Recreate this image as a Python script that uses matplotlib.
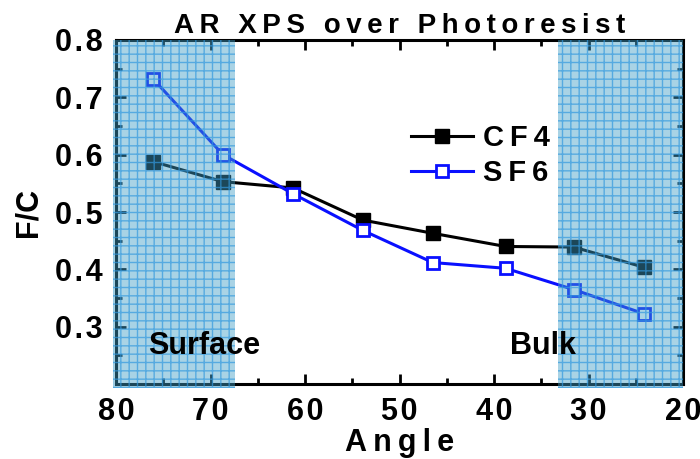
import matplotlib
matplotlib.use('Agg')
import matplotlib.pyplot as plt
from matplotlib.ticker import MultipleLocator, FuncFormatter

plt.rcParams['font.family'] = ['Liberation Sans', 'DejaVu Sans']
plt.rcParams['font.weight'] = 'bold'
plt.rcParams['hatch.linewidth'] = 1.0

# data
angle = [76.1, 68.7, 61.3, 53.9, 46.5, 38.8, 31.6, 24.2]
cf4 = [0.588, 0.553, 0.542, 0.486, 0.463, 0.440, 0.439, 0.404]
sf6 = [0.732, 0.600, 0.532, 0.468, 0.412, 0.402, 0.365, 0.323]
surface_span = (80.3, 67.4)
bulk_span = (33.3, 20)


def spaced(s, gap='\u2009'):
    # origin-style letter spacing
    return gap.join(s)


fig = plt.figure(figsize=(7, 4.59), dpi=100)
ax = fig.add_axes([0.166, 0.163, 0.81, 0.750])

ax.plot(angle, cf4, '-s', color='black', lw=2.2, ms=9.5, label=spaced('CF4'), zorder=3)
ax.plot(angle, sf6, '-s', color='#0a10ff', lw=2.2, ms=8.5, mfc='white',
        mew=2.0, label=spaced('SF6'), zorder=3)

# shaded regions drawn over everything, like the original
for lo, hi in (surface_span, bulk_span):
    ax.axvspan(lo, hi, ymin=-0.012, facecolor=(0.25, 0.62, 0.78, 0.45),
               edgecolor='none', zorder=5, clip_on=False)
    ax.axvspan(lo, hi, ymin=-0.012, facecolor='none', edgecolor=(0.2, 0.6, 0.87, 0.7),
               hatch='++', lw=0, zorder=5, clip_on=False)

ax.text(76.6, 0.252, 'Surface', fontsize=22, fontweight='bold', zorder=6)
ax.text(38.3, 0.252, 'Bulk', fontsize=22, fontweight='bold', zorder=6)

ax.set_xlim(80, 20)
ax.set_ylim(0.2, 0.8)
ax.xaxis.set_major_locator(MultipleLocator(10))
ax.xaxis.set_minor_locator(MultipleLocator(5))
ax.yaxis.set_minor_locator(MultipleLocator(0.05))
ax.set_yticks([0.3, 0.4, 0.5, 0.6, 0.7, 0.8])
ax.xaxis.set_major_formatter(FuncFormatter(lambda v, p: spaced('%d' % v, '\u200a')))
ax.yaxis.set_major_formatter(FuncFormatter(lambda v, p: spaced('%.1f' % v, '\u200a')))
ax.tick_params(which='both', direction='in', top=True, right=True, width=2,
               labelsize=22)
ax.tick_params(which='major', length=7)
ax.tick_params(which='minor', length=4)
ax.tick_params(axis='x', pad=9)
ax.tick_params(axis='y', pad=10)
for s in ax.spines.values():
    s.set_linewidth(2.2)

ax.set_xlabel(spaced('Angle'), fontsize=22, fontweight='bold', labelpad=1)
ax.set_ylabel('F/C', fontsize=22, fontweight='bold', labelpad=8)
ax.set_title(spaced('AR XPS over Photoresist'), fontsize=20, fontweight='bold', pad=5)

ax.legend(loc='upper left', bbox_to_anchor=(0.5, 0.79), frameon=False,
          fontsize=21, handlelength=2.1, handletextpad=0.35, labelspacing=0.25,
          borderaxespad=0)

fig.savefig('out.png', dpi=100)
